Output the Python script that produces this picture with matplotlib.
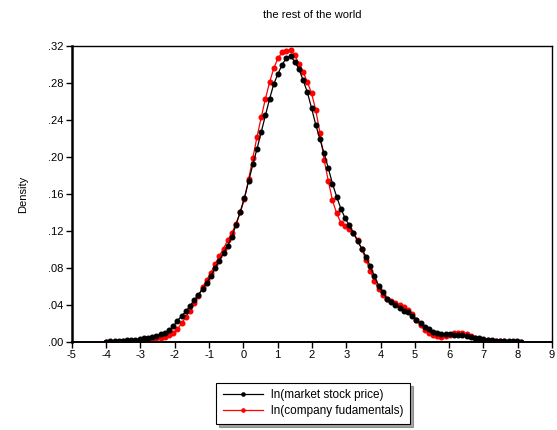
import matplotlib.pyplot as plt
import numpy as np

plt.rcParams['font.family'] = ['Liberation Sans', 'DejaVu Sans']
plt.rcParams['axes.unicode_minus'] = False

# Kernel density estimates, 100 evaluation points from -4 to 8.1
x_start, x_stop, n_points = -4.0, 8.1, 100

market_density = [
    0.0005, 0.0006, 0.0008, 0.0010, 0.0013, 0.0016, 0.0020, 0.0025, 0.0031, 0.0038,
    0.0046, 0.0056, 0.0068, 0.0082, 0.0100, 0.0125, 0.0170, 0.0230, 0.0280, 0.0330,
    0.0390, 0.0450, 0.0510, 0.0570, 0.0640, 0.0710, 0.0800, 0.0880, 0.0960, 0.1040,
    0.1140, 0.1270, 0.1410, 0.1560, 0.1740, 0.1920, 0.2090, 0.2270, 0.2450, 0.2630,
    0.2790, 0.2900, 0.3000, 0.3070, 0.3090, 0.3030, 0.2950, 0.2830, 0.2700, 0.2530,
    0.2350, 0.2190, 0.2040, 0.1880, 0.1710, 0.1570, 0.1440, 0.1340, 0.1260, 0.1180,
    0.1090, 0.1010, 0.0920, 0.0820, 0.0710, 0.0610, 0.0540, 0.0470, 0.0430, 0.0400,
    0.0370, 0.0340, 0.0320, 0.0280, 0.0240, 0.0200, 0.0160, 0.0140, 0.0110, 0.0095,
    0.0088, 0.0085, 0.0083, 0.0080, 0.0077, 0.0072, 0.0065, 0.0057, 0.0048, 0.0040,
    0.0032, 0.0025, 0.0019, 0.0015, 0.0012, 0.0010, 0.0008, 0.0007, 0.0006, 0.0005,
]

company_density = [
    0.0002, 0.0003, 0.0004, 0.0005, 0.0007, 0.0009, 0.0012, 0.0015, 0.0019, 0.0023,
    0.0028, 0.0033, 0.0040, 0.0048, 0.0058, 0.0072, 0.0095, 0.0140, 0.0200, 0.0270,
    0.0340, 0.0420, 0.0500, 0.0590, 0.0670, 0.0750, 0.0840, 0.0930, 0.1010, 0.1100,
    0.1180, 0.1280, 0.1400, 0.1550, 0.1760, 0.1990, 0.2220, 0.2430, 0.2630, 0.2810,
    0.2960, 0.3070, 0.3130, 0.3150, 0.3160, 0.3100, 0.3010, 0.2920, 0.2810, 0.2690,
    0.2510, 0.2260, 0.1970, 0.1740, 0.1530, 0.1390, 0.1290, 0.1250, 0.1220, 0.1180,
    0.1100, 0.1000, 0.0890, 0.0770, 0.0660, 0.0570, 0.0510, 0.0470, 0.0440, 0.0420,
    0.0400, 0.0380, 0.0350, 0.0300, 0.0240, 0.0180, 0.0130, 0.0100, 0.0075, 0.0060,
    0.0058, 0.0065, 0.0080, 0.0095, 0.0102, 0.0100, 0.0088, 0.0068, 0.0048, 0.0034,
    0.0025, 0.0018, 0.0013, 0.0010, 0.0008, 0.0006, 0.0005, 0.0004, 0.0003, 0.0002,
]

x_ticks = list(range(-5, 10))
y_ticks = [0.00, 0.04, 0.08, 0.12, 0.16, 0.20, 0.24, 0.28, 0.32]
y_tick_labels = ['.00', '.04', '.08', '.12', '.16', '.20', '.24', '.28', '.32']

grid = np.linspace(x_start, x_stop, n_points)

fig = plt.figure(figsize=(5.57, 4.30), dpi=100)
ax = fig.add_axes([0.129, 0.2047, 0.862, 0.6883])

# red first so the black series sits on top
red_line, = ax.plot(grid, company_density, color='#ff0000', lw=0.9,
                    marker='o', ms=3.3, mec='#ff0000', mfc='#ff0000',
                    label='ln(company fudamentals)')
black_line, = ax.plot(grid, market_density, color='black', lw=0.9,
                      marker='o', ms=3.3, mec='black', mfc='black',
                      label='ln(market stock price)')

ax.set_xlim(-5, 9)
ax.set_ylim(0, 0.32)
ax.set_xticks(x_ticks)
ax.set_yticks(y_ticks)
ax.set_yticklabels(y_tick_labels)
ax.tick_params(direction='out', length=4, width=1, labelsize=8, pad=2)
ax.tick_params(top=False, right=False)

ax.spines['left'].set_linewidth(1.8)
ax.spines['bottom'].set_linewidth(1.4)
ax.spines['top'].set_linewidth(1.0)
ax.spines['right'].set_linewidth(1.0)

ax.set_ylabel('Density', fontsize=8, labelpad=14)
ax.set_title('the rest of the world', fontsize=8, pad=20)

leg = fig.legend(handles=[black_line, red_line],
                 labels=['ln(market stock price)', 'ln(company fudamentals)'],
                 loc='center', bbox_to_anchor=(0.562, 0.062),
                 fontsize=8.5, frameon=True, fancybox=False, shadow=True,
                 handlelength=3.4, markerscale=0.7, borderpad=0.55,
                 labelspacing=0.35, handletextpad=0.7)
leg.get_frame().set_edgecolor('black')
leg.get_frame().set_linewidth(0.8)

fig.savefig('out.png', dpi=100)
